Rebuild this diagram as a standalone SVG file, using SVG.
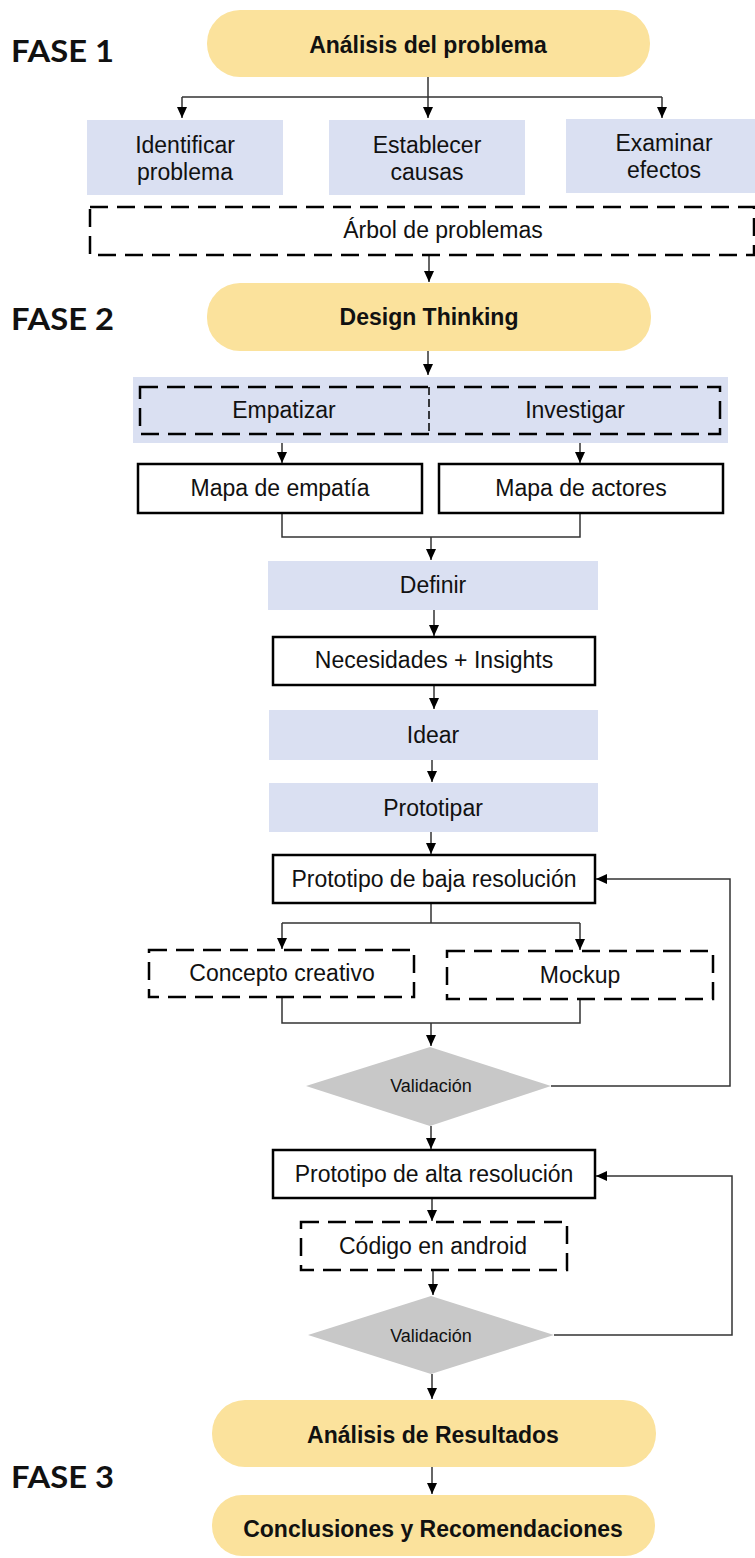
<svg xmlns="http://www.w3.org/2000/svg" width="755" height="1558" viewBox="0 0 755 1558">
<defs>
<marker id="ah" markerUnits="userSpaceOnUse" markerWidth="12" markerHeight="12" refX="11" refY="5" orient="auto"><path d="M0,0 L11,5 L0,10 z" fill="#000"/></marker>
<style>
.pill{fill:#fbe29c}
.lav{fill:#dae0f2}
.box{fill:#fff;stroke:#000;stroke-width:2.5}
.dash{fill:none;stroke:#000;stroke-width:2.5;stroke-dasharray:18 9}
.dia{fill:#c8c8c8}
.t{font-family:"Liberation Sans",Arial,sans-serif;font-size:23px;fill:#111;text-anchor:middle}
.tb{font-weight:bold}
.v{font-size:18px}
.fase{font-family:Lato,"Liberation Sans",sans-serif;font-weight:bold;font-size:31px;fill:#111}
.c{fill:none;stroke:#333;stroke-width:1.5}
.a{marker-end:url(#ah)}
</style>
</defs>
<rect width="755" height="1558" fill="#fff"/>
<g id="labels">
<text class="fase" x="11" y="62" textLength="103" lengthAdjust="spacingAndGlyphs">FASE 1</text>
<text class="fase" x="11" y="330" textLength="103" lengthAdjust="spacingAndGlyphs">FASE 2</text>
<text class="fase" x="11" y="1488" textLength="103" lengthAdjust="spacingAndGlyphs">FASE 3</text>
</g>
<g id="connectors">
<path class="c" d="M428,77 V97 M182,97 H662"/>
<path class="c a" d="M182,97 V118"/>
<path class="c a" d="M428,97 V118"/>
<path class="c a" d="M662,97 V118"/>
<path class="c a" d="M429,255 V282"/>
<path class="c a" d="M428,351 V375"/>
<path class="c a" d="M282,443 V463"/>
<path class="c a" d="M580,443 V463"/>
<path class="c" d="M282,513 V537 H580 V513"/>
<path class="c a" d="M431,537 V560"/>
<path class="c a" d="M434,610 V636"/>
<path class="c a" d="M434,685 V709"/>
<path class="c a" d="M432,760 V782"/>
<path class="c a" d="M431,832 V854"/>
<path class="c" d="M431,903 V923 M282,923 H580"/>
<path class="c a" d="M282,923 V949"/>
<path class="c a" d="M580,923 V950"/>
<path class="c" d="M282,997 V1023 H580 V999"/>
<path class="c a" d="M431,1023 V1046"/>
<path class="c a" d="M551,1086 H730 V879 H596"/>
<path class="c a" d="M431,1126 V1149"/>
<path class="c a" d="M432,1198 V1221"/>
<path class="c a" d="M433,1270 V1295"/>
<path class="c a" d="M554,1335 H732 V1176 H596"/>
<path class="c a" d="M432,1374 V1399"/>
<path class="c a" d="M432,1467 V1494"/>
</g>
<g id="analisis"><rect class="pill" x="207" y="10" width="443" height="67" rx="33"/><text class="t tb" x="428" y="53">Análisis del problema</text></g>
<g id="identificar"><rect class="lav" x="87" y="120" width="196" height="75"/><text class="t" x="185" y="153">Identificar</text><text class="t" x="185" y="180">problema</text></g>
<g id="establecer"><rect class="lav" x="329" y="120" width="196" height="75"/><text class="t" x="427" y="153">Establecer</text><text class="t" x="427" y="180">causas</text></g>
<g id="examinar"><rect class="lav" x="566" y="119" width="190" height="74"/><text class="t" x="664" y="151">Examinar</text><text class="t" x="664" y="178">efectos</text></g>
<g id="arbol"><rect class="dash" x="90" y="207" width="664" height="48"/><text class="t" x="443" y="238">Árbol de problemas</text></g>
<g id="design"><rect class="pill" x="207" y="283" width="444" height="68" rx="33"/><text class="t tb" x="429" y="325">Design Thinking</text></g>
<g id="empatizar-investigar"><rect class="lav" x="133" y="377" width="595" height="66"/><rect class="dash" x="140" y="387" width="580" height="47"/><path d="M429,387 V434" stroke="#000" stroke-width="1.5" stroke-dasharray="8 4"/><text class="t" x="284" y="418">Empatizar</text><text class="t" x="575" y="418">Investigar</text></g>
<g id="mapa-empatia"><rect class="box" x="138" y="464" width="284" height="49"/><text class="t" x="280" y="496">Mapa de empatía</text></g>
<g id="mapa-actores"><rect class="box" x="439" y="464" width="284" height="49"/><text class="t" x="581" y="496">Mapa de actores</text></g>
<g id="definir"><rect class="lav" x="268" y="561" width="330" height="49"/><text class="t" x="433" y="593">Definir</text></g>
<g id="necesidades"><rect class="box" x="273" y="637" width="322" height="48"/><text class="t" x="434" y="668">Necesidades + Insights</text></g>
<g id="idear"><rect class="lav" x="269" y="710" width="329" height="50"/><text class="t" x="433" y="743">Idear</text></g>
<g id="prototipar"><rect class="lav" x="269" y="783" width="329" height="49"/><text class="t" x="433" y="816">Prototipar</text></g>
<g id="baja"><rect class="box" x="273" y="855" width="322" height="48"/><text class="t" x="434" y="887">Prototipo de baja resolución</text></g>
<g id="concepto"><rect class="dash" x="149" y="950" width="265" height="47"/><text class="t" x="282" y="981">Concepto creativo</text></g>
<g id="mockup"><rect class="dash" x="447" y="951" width="266" height="48"/><text class="t" x="580" y="983">Mockup</text></g>
<g id="validacion1"><polygon class="dia" points="306,1086 430,1047 551,1086 430,1126"/><text class="t v" x="431" y="1092">Validación</text></g>
<g id="alta"><rect class="box" x="273" y="1150" width="322" height="48"/><text class="t" x="434" y="1182">Prototipo de alta resolución</text></g>
<g id="codigo"><rect class="dash" x="301" y="1222" width="266" height="48"/><text class="t" x="433" y="1254">Código en android</text></g>
<g id="validacion2"><polygon class="dia" points="308,1335 431,1296 554,1335 431,1374"/><text class="t v" x="431" y="1342">Validación</text></g>
<g id="resultados"><rect class="pill" x="212" y="1400" width="444" height="67" rx="33"/><text class="t tb" x="433" y="1443">Análisis de Resultados</text></g>
<g id="conclusiones"><rect class="pill" x="212" y="1495" width="443" height="61" rx="30"/><text class="t tb" x="433" y="1537">Conclusiones y Recomendaciones</text></g>
</svg>
